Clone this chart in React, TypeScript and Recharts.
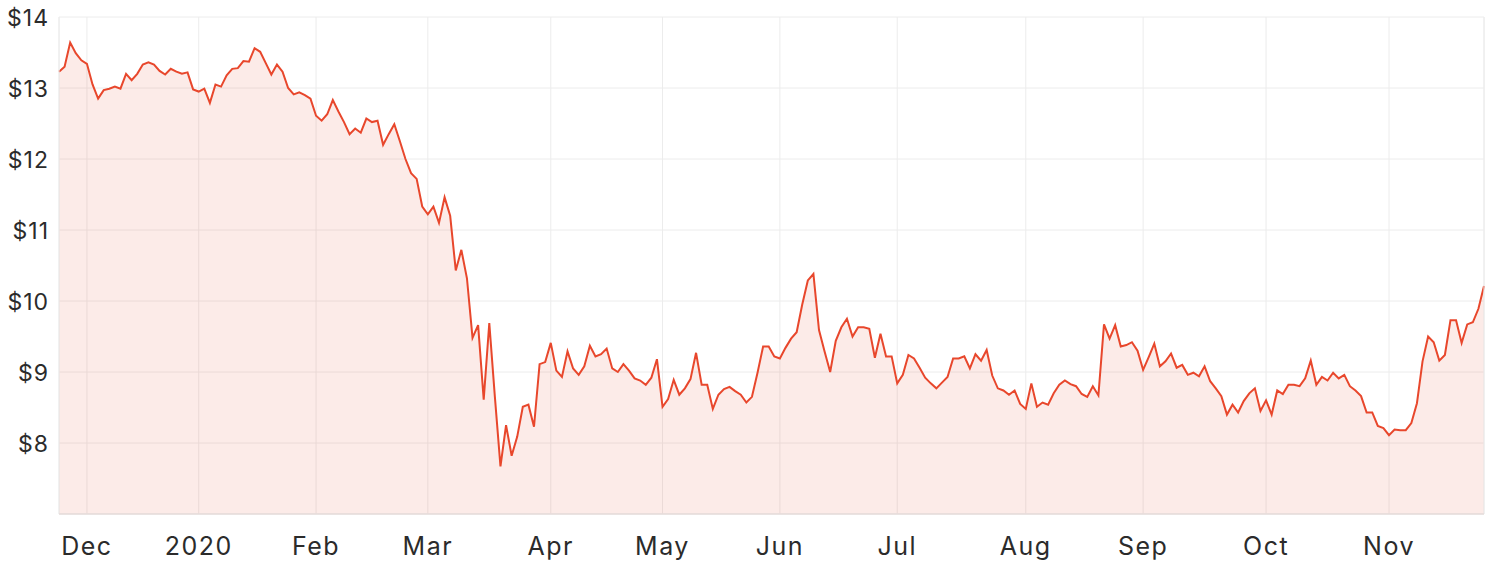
import React from "react";
import { AreaChart, Area, XAxis, YAxis, CartesianGrid, ReferenceLine } from "recharts";

// Daily closing prices, 25 Nov 2019 – 25 Nov 2020 (trading days)
const prices: number[] = [
  13.23, 13.3, 13.64, 13.49, 13.39, 13.34, 13.05, 12.85, 12.97, 12.99,
  13.02, 12.99, 13.2, 13.11, 13.2, 13.33, 13.36, 13.33, 13.24, 13.19,
  13.27, 13.23, 13.2, 13.22, 12.98, 12.95, 12.99, 12.79, 13.05, 13.02,
  13.18, 13.27, 13.28, 13.38, 13.37, 13.56, 13.51, 13.35, 13.19, 13.33,
  13.23, 13.0, 12.91, 12.94, 12.9, 12.85, 12.61, 12.54, 12.63, 12.83,
  12.67, 12.52, 12.35, 12.43, 12.37, 12.57, 12.52, 12.54, 12.2, 12.35,
  12.49, 12.25, 12.0, 11.8, 11.72, 11.33, 11.22, 11.33, 11.1, 11.46,
  11.2, 10.43, 10.72, 10.32, 9.48, 9.66, 8.61, 9.69, 8.65, 7.67,
  8.25, 7.82, 8.09, 8.51, 8.54, 8.23, 9.11, 9.14, 9.41, 9.02,
  8.93, 9.29, 9.05, 8.96, 9.08, 9.37, 9.22, 9.25, 9.33, 9.05,
  9.0, 9.11, 9.02, 8.91, 8.88, 8.82, 8.92, 9.18, 8.51, 8.62,
  8.89, 8.68, 8.77, 8.9, 9.27, 8.82, 8.82, 8.48, 8.68, 8.76,
  8.79, 8.73, 8.68, 8.57, 8.65, 8.99, 9.36, 9.36, 9.22, 9.19,
  9.34, 9.47, 9.56, 9.95, 10.29, 10.38, 9.59, 9.29, 9.0, 9.44,
  9.63, 9.75, 9.5, 9.63, 9.63, 9.61, 9.2, 9.54, 9.22, 9.22,
  8.84, 8.96, 9.24, 9.19, 9.06, 8.92, 8.84, 8.77, 8.85, 8.93,
  9.19, 9.19, 9.22, 9.05, 9.25, 9.16, 9.31, 8.95, 8.77, 8.74,
  8.68, 8.74, 8.55, 8.48, 8.84, 8.51, 8.57, 8.54, 8.7, 8.82,
  8.88, 8.83, 8.8, 8.69, 8.65, 8.8, 8.67, 9.67, 9.47, 9.66,
  9.36, 9.38, 9.42, 9.3, 9.03, 9.21, 9.4, 9.08, 9.15, 9.26,
  9.06, 9.1, 8.96, 8.99, 8.94, 9.08, 8.87, 8.77, 8.66, 8.4,
  8.54, 8.43, 8.59, 8.7, 8.77, 8.45, 8.6, 8.4, 8.74, 8.69,
  8.82, 8.82, 8.8, 8.91, 9.16, 8.82, 8.93, 8.88, 8.99, 8.91,
  8.96, 8.8, 8.74, 8.66, 8.43, 8.43, 8.24, 8.21, 8.11, 8.19,
  8.18, 8.18, 8.28, 8.56, 9.15, 9.5, 9.42, 9.16, 9.24, 9.73,
  9.73, 9.41, 9.67, 9.7, 9.89, 10.21,
];

// Index of the first trading day of each month and its label
const monthTickIdx: number[] = [5, 25, 46, 66, 88, 108, 129, 150, 173, 194, 216, 238];
const monthLabels: string[] = ["Dec", "2020", "Feb", "Mar", "Apr", "May", "Jun", "Jul", "Aug", "Sep", "Oct", "Nov"];
const priceTicks: number[] = [8, 9, 10, 11, 12, 13, 14];

const data = prices.map((p, i) => ({ i, price: p }));

const FONT = "Inter, 'Noto Sans', sans-serif";
const LINE = "#e8472c";
const GRID = "#ececec";

const XTick = (props: any) => {
  const { x, y, payload } = props;
  const idx = monthTickIdx.indexOf(payload.value);
  return (
    <text x={x} y={y + 41} textAnchor="middle" fontFamily={FONT} fontSize={25} letterSpacing={1.5} fill="#2b2b2b">
      {idx >= 0 ? monthLabels[idx] : ""}
    </text>
  );
};

const YTick = (props: any) => {
  const { x, y, payload } = props;
  return (
    <text x={x} y={y + 9} textAnchor="end" fontFamily={FONT} fontSize={23} letterSpacing={1} fill="#2b2b2b">
      {`$${payload.value}`}
    </text>
  );
};

export default function App() {
  return (
    <div style={{ position: "absolute", left: 0, top: 0, background: "#fff" }}>
      <AreaChart
        width={1494}
        height={568}
        data={data}
        margin={{ top: 17, right: 10, left: 0, bottom: 0 }}
      >
        <CartesianGrid stroke={GRID} strokeWidth={1} />
        <XAxis
          dataKey="i"
          type="number"
          domain={[0, prices.length - 1]}
          ticks={monthTickIdx}
          interval={0}
          height={54}
          tickLine={false}
          tickSize={0}
          tickMargin={0}
          axisLine={{ stroke: "#e6dcdb", strokeWidth: 1.5 }}
          tick={<XTick />}
        />
        <YAxis
          type="number"
          domain={[7, 14]}
          ticks={priceTicks}
          interval={0}
          width={59}
          tickLine={false}
          tickSize={0}
          tickMargin={10}
          axisLine={false}
          tick={<YTick />}
        />
        <ReferenceLine x={0} stroke={GRID} />
        <ReferenceLine x={prices.length - 1} stroke={GRID} />
        <Area
          type="linear"
          dataKey="price"
          stroke={LINE}
          strokeWidth={2}
          fill={LINE}
          fillOpacity={0.11}
          baseValue={7}
          dot={false}
          activeDot={false}
          isAnimationActive={false}
        />
      </AreaChart>
    </div>
  );
}
